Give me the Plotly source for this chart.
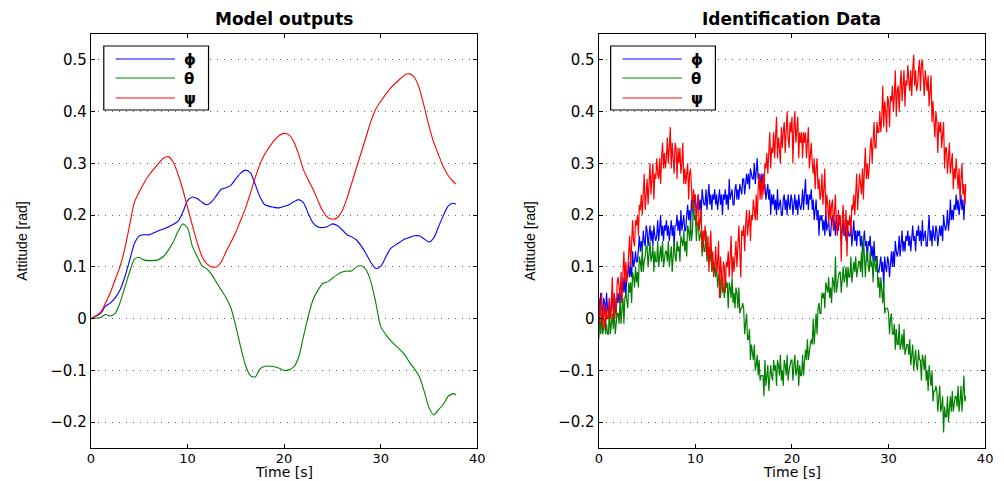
import numpy as np
import plotly.graph_objects as go

# ---------------- data ----------------
t_model = [0, 1, 1.5, 2, 2.5, 3, 3.5, 4, 4.5, 5,
           5.5, 6, 7, 7.5, 8, 8.5, 9, 9.5, 10, 10.5,
           11, 11.5, 12, 12.5, 13, 13.5, 14, 14.5, 15, 15.5,
           16, 16.5, 17, 17.5, 18, 19, 19.5, 20, 20.5, 21,
           21.5, 22, 22.5, 23, 23.5, 24, 24.5, 25, 25.5, 26,
           26.5, 27, 27.5, 28, 28.5, 29, 29.5, 30, 30.5, 31,
           32, 32.5, 33, 33.5, 34, 34.5, 35, 35.5, 36, 36.5,
           37, 37.5, 37.8]

phi_model = [0, 0.01, 0.024, 0.03, 0.04, 0.055, 0.08, 0.112, 0.145, 0.16,
             0.162, 0.162, 0.17, 0.173, 0.177, 0.182, 0.188, 0.205, 0.228, 0.235,
             0.232, 0.225, 0.22, 0.226, 0.238, 0.25, 0.253, 0.258, 0.27, 0.281,
             0.287, 0.282, 0.26, 0.235, 0.22, 0.215, 0.214, 0.217, 0.22, 0.226,
             0.23, 0.224, 0.203, 0.185, 0.177, 0.176, 0.178, 0.183, 0.18, 0.172,
             0.162, 0.158, 0.152, 0.14, 0.125, 0.108, 0.097, 0.101, 0.118, 0.135,
             0.148, 0.154, 0.157, 0.16, 0.16, 0.154, 0.148, 0.156, 0.178, 0.2,
             0.218, 0.223, 0.221]

theta_model = [0, 0.002, 0.008, 0.005, 0.01, 0.03, 0.06, 0.09, 0.115, 0.118,
               0.113, 0.112, 0.114, 0.12, 0.132, 0.147, 0.168, 0.183, 0.175, 0.14,
               0.12, 0.102, 0.096, 0.085, 0.07, 0.055, 0.04, 0.02, -0.015, -0.055,
               -0.09, -0.11, -0.113, -0.097, -0.092, -0.093, -0.096, -0.1, -0.099, -0.093,
               -0.075, -0.035, 0.005, 0.037, 0.055, 0.068, 0.071, 0.078, 0.085, 0.09,
               0.092, 0.092, 0.1, 0.102, 0.094, 0.07, 0.03, -0.015, -0.03, -0.042,
               -0.06, -0.07, -0.085, -0.097, -0.112, -0.14, -0.172, -0.186, -0.176, -0.165,
               -0.15, -0.145, -0.147]

psi_model = [0, 0.012, 0.03, 0.05, 0.075, 0.1, 0.135, 0.18, 0.225, 0.245,
             0.262, 0.277, 0.3, 0.31, 0.313, 0.303, 0.28, 0.25, 0.215, 0.18,
             0.147, 0.12, 0.106, 0.1, 0.1, 0.11, 0.13, 0.148, 0.167, 0.19,
             0.213, 0.242, 0.272, 0.298, 0.318, 0.345, 0.354, 0.358, 0.355, 0.342,
             0.318, 0.288, 0.268, 0.25, 0.228, 0.208, 0.196, 0.192, 0.195, 0.208,
             0.232, 0.262, 0.292, 0.322, 0.352, 0.382, 0.405, 0.42, 0.433, 0.445,
             0.463, 0.471, 0.473, 0.466, 0.445, 0.41, 0.372, 0.34, 0.316, 0.293,
             0.276, 0.265, 0.26]

# identification data, sampled every 0.1 s from 0 to 38 s, in units of 0.01 rad
t_data = np.linspace(0, 38, 381)

phi_data_cr = [
    4, 1, 5, 2, 0, 4, 3, 1, 5, 2,
    1, 4, 0, 2, 5, 2, 3, 1, 4, 3,
    5, 3, 5, 3, 5, 8, 5, 8, 4, 9,
    8, 11, 8, 10, 8, 13, 10, 11, 13, 11,
    11, 14, 16, 13, 15, 13, 17, 15, 14, 18,
    17, 14, 16, 18, 15, 17, 14, 18, 16, 15,
    16, 19, 15, 17, 20, 16, 18, 15, 18, 17,
    19, 16, 18, 15, 17, 19, 16, 18, 14, 18,
    18, 20, 17, 19, 16, 21, 17, 19, 20, 17,
    17, 20, 22, 19, 21, 18, 23, 21, 20, 23,
    23, 20, 22, 24, 21, 23, 20, 25, 23, 22,
    22, 25, 21, 23, 26, 22, 24, 21, 24, 23,
    25, 22, 24, 21, 23, 25, 22, 24, 20, 24,
    23, 25, 22, 24, 21, 27, 23, 24, 25, 22,
    22, 25, 26, 23, 25, 23, 26, 25, 24, 27,
    27, 24, 26, 28, 26, 28, 25, 29, 28, 27,
    27, 30, 26, 28, 31, 27, 28, 25, 28, 26,
    28, 25, 26, 23, 25, 26, 23, 25, 20, 24,
    22, 24, 21, 23, 20, 25, 21, 22, 23, 20,
    20, 23, 24, 21, 23, 20, 24, 22, 21, 24,
    23, 20, 22, 24, 21, 23, 20, 24, 22, 21,
    22, 25, 21, 24, 27, 22, 24, 21, 24, 23,
    25, 21, 23, 19, 21, 23, 19, 21, 16, 20,
    19, 20, 17, 19, 16, 21, 17, 18, 19, 16,
    16, 19, 20, 17, 19, 16, 20, 18, 17, 20,
    19, 15, 17, 19, 16, 18, 15, 19, 17, 16,
    16, 18, 14, 16, 19, 15, 17, 14, 17, 16,
    17, 14, 16, 13, 15, 17, 14, 15, 11, 15,
    14, 16, 12, 14, 11, 15, 11, 12, 12, 9,
    9, 11, 12, 9, 11, 6, 12, 10, 9, 12,
    11, 8, 11, 13, 10, 13, 10, 15, 13, 12,
    13, 16, 12, 14, 17, 13, 15, 13, 16, 15,
    17, 14, 16, 13, 15, 18, 15, 16, 13, 17,
    16, 18, 15, 17, 14, 19, 15, 16, 17, 14,
    14, 17, 20, 15, 17, 14, 18, 16, 15, 18,
    17, 14, 16, 18, 16, 18, 15, 20, 18, 17,
    18, 21, 17, 19, 23, 19, 21, 19, 22, 21,
    24, 21, 23, 20, 22, 24, 21, 23, 19, 23,
    23]

theta_data_cr = [
    -4, 0, -3, 1, -3, -2, 0, -3, -1, -3,
    -3, 2, -3, -1, 1, -2, 2, -3, 0, 1,
    1, -1, 4, -1, 2, 4, -1, 4, 5, 3,
    2, 7, 5, 7, 3, 9, 8, 6, 10, 7,
    9, 6, 12, 11, 9, 14, 9, 11, 12, 14,
    14, 10, 13, 15, 11, 12, 14, 9, 13, 11,
    11, 15, 10, 12, 14, 11, 15, 10, 12, 13,
    13, 11, 15, 10, 12, 14, 9, 13, 15, 12,
    11, 15, 13, 14, 11, 16, 15, 14, 17, 13,
    15, 12, 18, 17, 15, 19, 15, 17, 23, 19,
    20, 15, 18, 19, 15, 16, 17, 12, 16, 13,
    13, 17, 11, 13, 14, 11, 14, 9, 10, 11,
    10, 8, 11, 6, 8, 9, 4, 8, 8, 5,
    4, 8, 6, 7, 2, 7, 6, 4, 8, 3,
    5, 2, 6, 5, 2, 6, 1, 2, 2, 3,
    2, -3, 0, 1, -4, -4, -2, -8, -5, -7,
    -8, -5, -10, -9, -7, -11, -8, -12, -11, -11,
    -11, -15, -8, -13, -11, -9, -14, -10, -9, -11,
    -12, -8, -10, -9, -13, -8, -9, -11, -7, -12,
    -10, -13, -8, -9, -11, -7, -12, -10, -9, -8,
    -8, -12, -9, -7, -11, -10, -8, -13, -9, -11,
    -11, -7, -11, -9, -6, -8, -4, -8, -6, -5,
    -4, -5, 0, -5, -2, 1, -3, 2, 3, 1,
    1, 5, 4, 5, 2, 7, 6, 5, 8, 4,
    6, 3, 8, 7, 5, 12, 5, 7, 8, 9,
    9, 5, 8, 10, 7, 8, 10, 6, 10, 8,
    8, 12, 7, 9, 11, 9, 12, 8, 10, 11,
    11, 9, 13, 8, 16, 12, 8, 12, 13, 10,
    9, 13, 10, 11, 7, 12, 10, 9, 12, 6,
    8, 4, 8, 6, 3, 7, 1, 2, 2, 2,
    1, -3, 0, 1, -3, -3, -1, -6, -2, -5,
    -5, -1, -6, -5, -3, -6, -2, -7, -6, -5,
    -5, -7, -4, -9, -7, -5, -10, -7, -6, -9,
    -10, -6, -8, -8, -12, -7, -8, -10, -7, -12,
    -10, -14, -9, -11, -13, -10, -16, -14, -14, -13,
    -14, -18, -15, -13, -18, -17, -15, -22, -17, -19,
    -19, -15, -20, -17, -15, -18, -14, -18, -16, -15,
    -15, -17, -13, -18, -16, -13, -18, -14, -11, -16,
    -15]

psi_data_cr = [
    4, -1, 2, 5, -2, 1, 3, -2, 2, 0,
    0, 4, 0, 3, 8, 0, 5, 3, 0, 7,
    8, 6, 4, 9, 3, 9, 13, 7, 11, 7,
    9, 13, 16, 10, 16, 19, 15, 14, 19, 18,
    20, 16, 22, 21, 24, 20, 24, 28, 21, 25,
    27, 22, 27, 30, 24, 27, 30, 23, 28, 27,
    31, 28, 27, 31, 26, 31, 34, 29, 32, 29,
    31, 35, 30, 33, 37, 29, 34, 31, 28, 34,
    33, 27, 33, 30, 33, 28, 30, 34, 26, 29,
    26, 28, 30, 23, 28, 29, 23, 21, 25, 23,
    24, 18, 22, 24, 17, 19, 21, 13, 17, 15,
    18, 15, 12, 16, 9, 14, 17, 10, 13, 8,
    10, 14, 9, 11, 15, 4, 12, 9, 5, 11,
    10, 5, 11, 10, 13, 8, 11, 16, 8, 12,
    9, 13, 15, 10, 15, 18, 13, 8, 17, 16,
    18, 13, 18, 21, 16, 18, 21, 15, 20, 19,
    23, 21, 19, 24, 19, 25, 28, 23, 27, 23,
    28, 24, 30, 29, 32, 28, 32, 36, 29, 33,
    32, 36, 31, 34, 39, 31, 35, 33, 30, 37,
    33, 36, 38, 32, 38, 40, 35, 33, 38, 36,
    39, 30, 37, 40, 34, 36, 39, 31, 36, 34,
    36, 31, 36, 34, 36, 31, 34, 37, 29, 32,
    34, 30, 28, 31, 25, 29, 31, 25, 27, 23,
    24, 28, 22, 25, 29, 20, 24, 22, 18, 23,
    19, 22, 23, 17, 22, 24, 18, 16, 21, 18,
    20, 11, 19, 22, 16, 18, 21, 12, 19, 18,
    20, 16, 22, 21, 24, 20, 24, 28, 21, 25,
    28, 26, 24, 29, 23, 29, 33, 27, 30, 27,
    29, 33, 35, 30, 35, 38, 33, 33, 38, 36,
    36, 40, 36, 39, 45, 37, 42, 40, 36, 43,
    42, 37, 43, 42, 45, 40, 43, 48, 39, 44,
    45, 40, 45, 48, 42, 45, 48, 41, 46, 45,
    49, 46, 44, 48, 43, 48, 51, 45, 48, 44,
    45, 48, 50, 44, 49, 50, 45, 43, 48, 45,
    44, 47, 41, 44, 47, 38, 42, 38, 35, 40,
    38, 32, 38, 36, 38, 33, 35, 38, 29, 33,
    33, 28, 31, 34, 28, 30, 32, 25, 29, 27,
    31, 28, 25, 29, 23, 27, 30, 24, 26, 22,
    26]

series_names = ["ϕ", "θ", "ψ"]
series_colors = ["#0000ff", "#008000", "#ff0000"]
panel_titles = ["Model outputs", "Identification Data"]
x_ticks = [0, 10, 20, 30, 40]
y_ticks = [-0.2, -0.1, 0, 0.1, 0.2, 0.3, 0.4, 0.5]
y_tick_text = ["−0.2", "−0.1", "0", "0.1", "0.2", "0.3", "0.4", "0.5"]

# ---------------- figure ----------------
W, H = 1004, 481
fig = go.Figure()

model_series = [phi_model, theta_model, psi_model]
data_series = [np.array(phi_data_cr) / 100.0,
               np.array(theta_data_cr) / 100.0,
               np.array(psi_data_cr) / 100.0]

for name, col, ys in zip(series_names, series_colors, model_series):
    fig.add_trace(go.Scatter(x=t_model, y=ys, mode="lines", name=name,
                             line=dict(color=col, width=1.1, shape="spline", smoothing=0.7),
                             showlegend=False, xaxis="x", yaxis="y", hoverinfo="skip"))
for name, col, ys in zip(series_names, series_colors, data_series):
    fig.add_trace(go.Scatter(x=t_data, y=ys, mode="lines", name=name,
                             line=dict(color=col, width=1.2),
                             showlegend=False, xaxis="x2", yaxis="y2", hoverinfo="skip"))

px = lambda p: p / W
py = lambda p: 1 - p / H

x_dom = [[px(88), px(479)], [px(602), px(993)]]
y_dom = [py(448), py(34)]

ytickfont = dict(family="DejaVu Sans, Verdana, sans-serif", size=15, color="black")
xtickfont = dict(family="DejaVu Sans, Verdana, sans-serif", size=13, color="black")
common_x = dict(range=[0, 40], tickvals=x_ticks, ticks="inside", ticklen=4, tickcolor="black",
                showline=True, linecolor="black", linewidth=1.2, mirror="ticks",
                showgrid=False, zeroline=False, tickfont=xtickfont, fixedrange=True,
                ticklabelstandoff=-2)
common_y = dict(range=[-0.25, 0.55], tickvals=y_ticks, ticktext=y_tick_text, ticks="inside",
                ticklen=4, tickcolor="black", showline=True, linecolor="black", linewidth=1.2,
                mirror="ticks", showgrid=True, gridcolor="#606060", griddash="1px,6px",
                gridwidth=1, zeroline=False, tickfont=ytickfont, fixedrange=True)

fig.update_layout(
    width=W, height=H,
    margin=dict(l=0, r=0, t=0, b=0),
    paper_bgcolor="white", plot_bgcolor="white",
    xaxis=dict(domain=x_dom[0], anchor="y", **common_x),
    yaxis=dict(domain=y_dom, anchor="x", **common_y),
    xaxis2=dict(domain=x_dom[1], anchor="y2", **common_x),
    yaxis2=dict(domain=y_dom, anchor="x2", **common_y),
    showlegend=False,
)

annotations = []
shapes = []
for i in range(2):
    x0, x1 = x_dom[i]
    xc = (x0 + x1) / 2
    annotations.append(dict(text="<b>" + panel_titles[i] + "</b>", x=xc, y=py(19),
                            xref="paper", yref="paper", showarrow=False,
                            font=dict(family="DejaVu Sans, Verdana, sans-serif", size=17, color="black"),
                            xanchor="center", yanchor="middle"))
    annotations.append(dict(text="Time [s]", x=xc, y=0, xref="paper", yref="paper",
                            showarrow=False, xanchor="center", yanchor="bottom", borderpad=0,
                            font=dict(family="DejaVu Sans, Verdana, sans-serif", size=14, color="black")))
    ylab_x = [18, 532][i]
    annotations.append(dict(text="Attitude [rad]", x=px(ylab_x), y=py(241), xref="paper", yref="paper",
                            showarrow=False, textangle=-90, xanchor="center", yanchor="middle",
                            font=dict(family="Liberation Sans Narrow, Arial Narrow, sans-serif",
                                      size=14, color="black")))
    # legend box
    bx0 = [101, 614][i]
    bx1 = [207, 720][i]
    shapes.append(dict(type="rect", xref="paper", yref="paper",
                       x0=px(bx0), x1=px(bx1), y0=py(110), y1=py(46),
                       line=dict(color="black", width=1.2), fillcolor="white", layer="above"))
    for k, (nm, col) in enumerate(zip(series_names, series_colors)):
        yy = [59, 78, 98][k]
        shapes.append(dict(type="line", xref="paper", yref="paper",
                           x0=px(bx0 + 12), x1=px(bx0 + 72), y0=py(yy), y1=py(yy),
                           line=dict(color=col, width=1.1), layer="above"))
        annotations.append(dict(text="<b>" + nm + "</b>", x=px(bx0 + 79), y=py(yy + 1),
                                xref="paper", yref="paper", showarrow=False,
                                xanchor="left", yanchor="middle",
                                font=dict(family="DejaVu Sans, sans-serif", size=15, color="black")))

fig.update_layout(annotations=annotations, shapes=shapes)

fig.write_html("out.html", config={"displayModeBar": False, "staticPlot": True})
